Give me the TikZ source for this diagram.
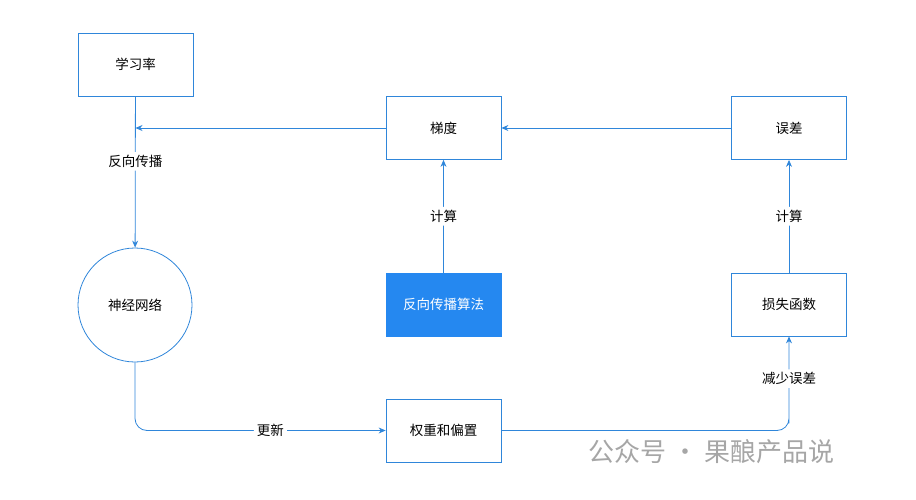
\documentclass[tikz,border=0pt]{standalone}
\usepackage{fontspec}
\setmainfont{Noto Sans CJK SC}
\usetikzlibrary{arrows.meta}
\definecolor{lb}{HTML}{2F86DA}
\definecolor{fb}{HTML}{2588F0}
\begin{document}
\begin{tikzpicture}[x=1pt,y=-1pt,
  box/.style={draw=lb,line width=0.8pt,fill=white,minimum width=115pt,minimum height=63pt,font=\fontsize{13.5}{16}\selectfont,inner sep=0pt},
  conn/.style={draw=lb,line width=0.8pt,-{Stealth[length=7pt,width=6pt]},rounded corners=12pt},
  lbl/.style={fill=white,font=\fontsize{13.5}{16}\selectfont,inner sep=3pt}]
\useasboundingbox (0,0) rectangle (916,500);
\node[box] (lr) at (135.5,64.5) {学习率};
\node[box] (gd) at (443.5,128) {梯度};
\node[box] (er) at (789,128) {误差};
\node[box,fill=fb,draw=fb,text=white] (bp) at (443.5,304.5) {反向传播算法};
\node[box] (ls) at (789,304.5) {损失函数};
\node[box] (wb) at (443.5,430.5) {权重和偏置};
\node[draw=lb,line width=0.8pt,circle,minimum size=114pt,inner sep=0pt,font=\fontsize{13.5}{16}\selectfont] (nn) at (135,305) {神经网络};
\coordinate (j) at (135.5,128);
\coordinate (c2) at (789,430.5);
\draw[conn] (er) -- (gd);
\draw[conn] (gd) -- (j);
\draw[conn] (lr) -- node[lbl,pos=0.43]{反向传播} (nn);
\draw[conn] (bp) -- node[lbl]{计算} (gd);
\draw[conn] (ls) -- node[lbl]{计算} (er);
\draw[conn] (nn.south) |- node[lbl,pos=0.77]{更新} (wb);
\draw[conn] (wb) -| (c2) -- node[lbl,pos=0.55]{减少误差} (ls.south);
\node[text=black!35,font=\fontsize{26}{30}\selectfont,anchor=west] (wm) at (585,452) {公众号 · 果酿产品说};
\end{tikzpicture}
\end{document}
